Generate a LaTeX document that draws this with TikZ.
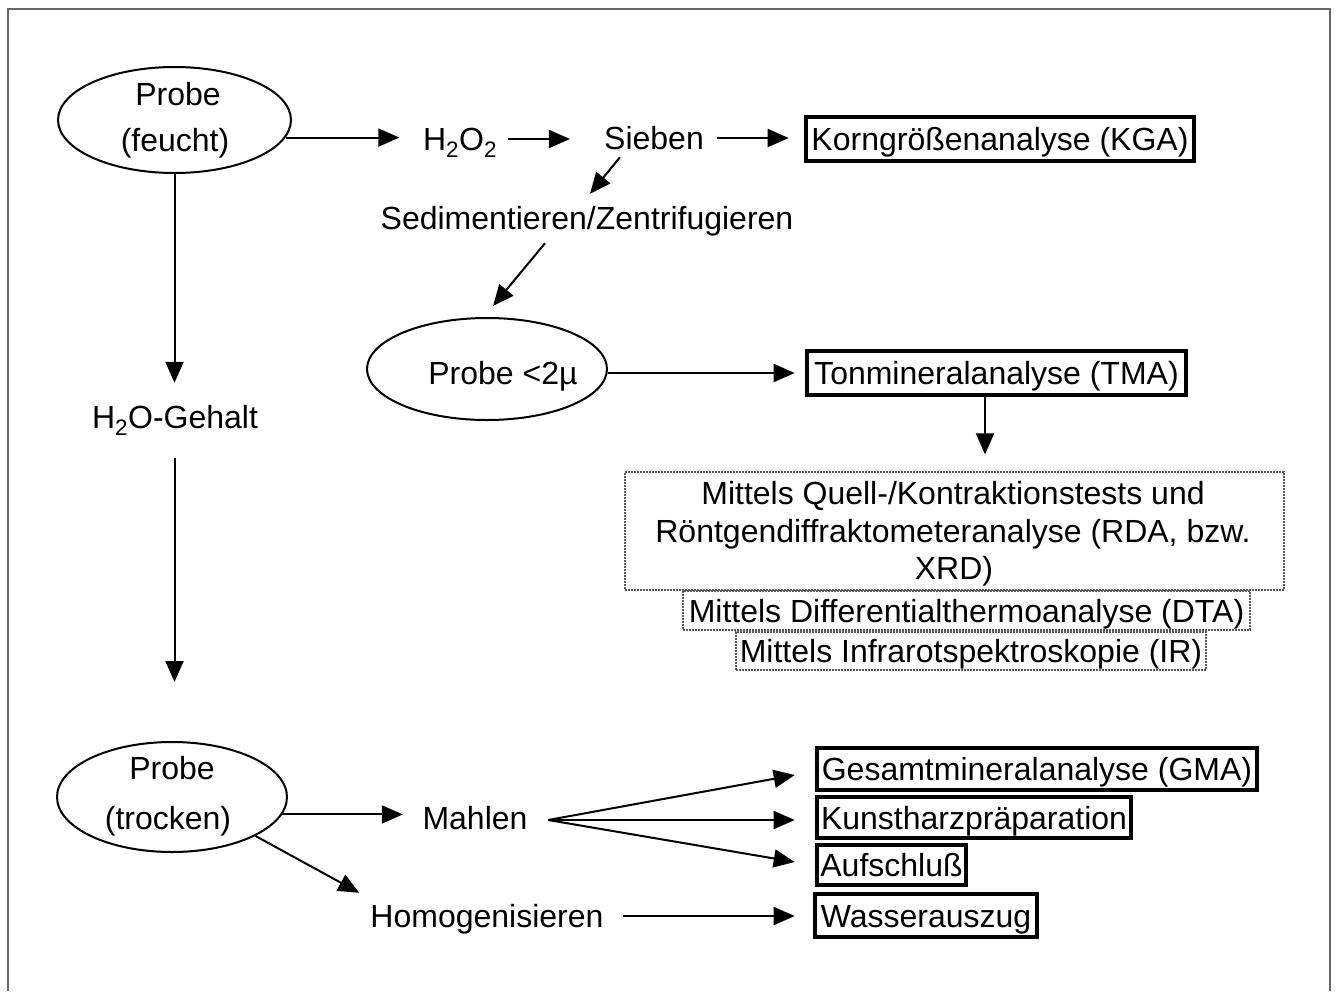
\documentclass[tikz,border=0pt]{standalone}
\usepackage{fontspec}
\setmainfont{Liberation Sans}
\usetikzlibrary{arrows.meta,shapes.geometric}
\begin{document}
\begin{tikzpicture}[x=1pt,y=-1pt,
  every node/.style={font=\fontsize{32}{38}\selectfont},
  txt/.style={inner sep=0pt,text height=23pt,text depth=0pt},
  ell/.style={draw,ellipse,line width=2pt,inner sep=0pt},
  res/.style={draw,line width=4.6pt,inner sep=0pt,text height=23pt,text depth=0pt},
  dbox/.style={draw=black!65,dash pattern=on 2pt off 1pt,line width=1.2pt,inner sep=0pt},
  arr/.style={line width=2pt,-{Triangle[length=21pt,width=18pt]}}]
\useasboundingbox (0,0) rectangle (1336,991);
\draw[line width=1.5pt,black!60] (8,991) -- (8,9) -- (1330,9) -- (1330,991);

% nodes
\node[ell,minimum width=233pt,minimum height=106pt] (pf) at (174.5,120) {};
\node[txt] (pf1) at (178,94) {Probe};
\node[txt] (pf2) at (175,140) {(feucht)};
\node[txt] (h2o2) at (460,139) {H\textsubscript{2}O\textsubscript{2}};
\node[txt] (sieben) at (654,138) {Sieben};
\node[res,minimum width=388pt,minimum height=44pt] (kga) at (1000,139) {Korngrößenanalyse (KGA)};
\node[txt] (sed) at (587,218) {Sedimentieren/Zentrifugieren};
\node[ell,minimum width=240pt,minimum height=102pt] (p2) at (487,369) {};
\node[txt] (p2t) at (503,373) {Probe <2µ};
\node[res,minimum width=379pt,minimum height=44pt] (tma) at (996.5,373) {Tonmineralanalyse (TMA)};
\node[dbox,minimum width=659pt,minimum height=118pt] (d1) at (954.5,531) {};
\node[txt] (d1a) at (953,493) {Mittels Quell-/Kontraktionstests und};
\node[txt] (d1b) at (953,531) {Röntgendiffraktometeranalyse (RDA, bzw.};
\node[txt] (d1c) at (954,568) {XRD)};
\node[dbox,txt,minimum width=567pt,minimum height=39pt] (d2) at (966.5,610.5) {Mittels Differentialthermoanalyse (DTA)};
\node[dbox,txt,minimum width=470pt,minimum height=38pt] (d3) at (971,651) {Mittels Infrarotspektroskopie (IR)};
\node[txt] (h2o) at (175,417) {H\textsubscript{2}O-Gehalt};
\node[ell,minimum width=230pt,minimum height=110pt] (pt) at (172,797) {};
\node[txt] (pt1) at (172,768) {Probe};
\node[txt] (pt2) at (168,818) {(trocken)};
\node[txt] (mahlen) at (475,818) {Mahlen};
\node[txt] (homog) at (487,916) {Homogenisieren};
\node[res,minimum width=440pt,minimum height=42pt] (gma) at (1037,769) {Gesamtmineralanalyse (GMA)};
\node[res,minimum width=314pt,minimum height=41pt] (kunst) at (974,817.5) {Kunstharzpräparation};
\node[res,minimum width=149pt,minimum height=40pt] (aufs) at (891.5,865) {Aufschluß};
\node[res,minimum width=222pt,minimum height=43pt] (wass) at (926,915.5) {Wasserauszug};

% connectors
\draw[arr,shorten >=23.5pt] (pf.-9) -- (pf.-9 -| h2o2.west);
\draw[arr,shorten <=11pt,shorten >=34pt] (h2o2.east) -- (h2o2.east -| sieben.west);
\draw[arr,shorten <=13pt,shorten >=15pt] (sieben.east) -- (sieben.east -| kga.west);
\draw[arr] ([xshift=-34pt,yshift=-7.5pt]sieben.south) -- ([xshift=3pt,yshift=12.5pt]sed.north);
\draw[arr] ([xshift=-42pt,yshift=-13.5pt]sed.south) -- ([xshift=6pt,yshift=11pt]p2.north);
\draw[arr,shorten >=10pt] (p2.east |- tma.west) -- (tma.west);
\draw[arr,shorten >=17pt] ([xshift=-11.5pt]tma.south) -- ([xshift=-11.5pt]tma.south |- d1.north);
\draw[arr,shorten >=22.5pt] (pf.south) -- (pf.south |- h2o.north);
\draw[arr,shorten <=29.5pt,shorten >=59pt] (pf.south |- h2o.south) -- (pf.south |- pt.north);
\draw[arr,shorten >=19.5pt] (pt.-9) -- (pt.-9 -| mahlen.west);
\draw[arr] (pt.-25) -- ([xshift=-11pt,yshift=11.5pt]homog.north west);
\draw[arr,shorten <=19pt,shorten >=18pt] (homog.east) -- (homog.east -| wass.west);
\coordinate (fan) at ([xshift=20.5pt,yshift=-2pt]mahlen.east);
\draw[arr] (fan) -- ([xshift=-20pt,yshift=-6pt]gma.west);
\draw[arr] (fan) -- ([xshift=-20pt,yshift=-2.5pt]kunst.west);
\draw[arr] (fan) -- ([xshift=-20pt,yshift=3pt]aufs.west);
\end{tikzpicture}
\end{document}
